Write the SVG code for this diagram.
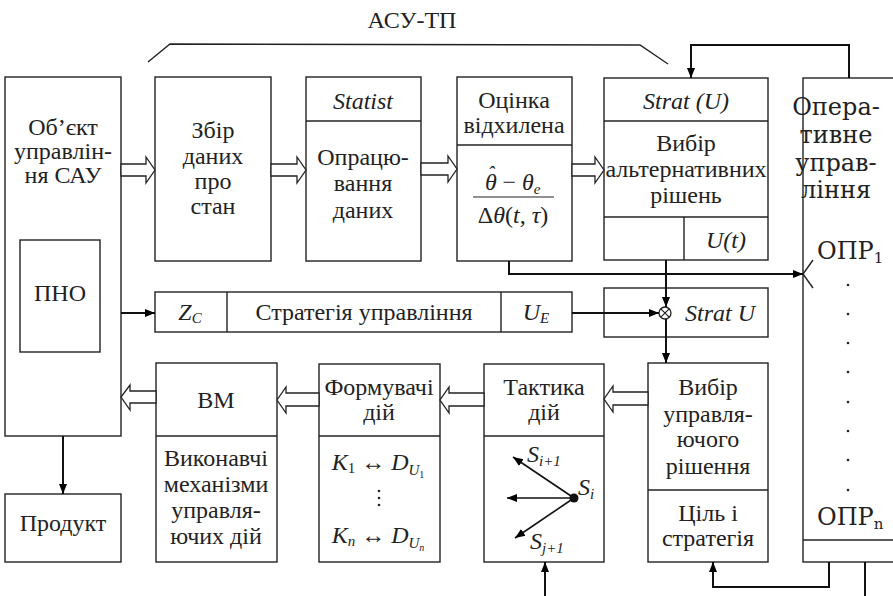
<svg xmlns="http://www.w3.org/2000/svg" width="893" height="596" viewBox="0 0 893 596">
<defs>
<marker id="ah2" viewBox="0 0 10 10" refX="10" refY="5" markerWidth="10" markerHeight="10" markerUnits="userSpaceOnUse" orient="auto">
<path d="M0,1 L10,5 L0,9 Z" fill="#000"/>
</marker>
<style>
.b{fill:#fff;stroke:#222;stroke-width:1.4}
.l{fill:none;stroke:#222;stroke-width:1.4}
.c{fill:none;stroke:#111;stroke-width:2}
.h{fill:#fff;stroke:#222;stroke-width:1.3}
text{font-size:24px;fill:#222}
.m{text-anchor:middle}
.i{font-style:italic}
.n{font-style:normal}
.s{font-size:15px}
</style>
</defs>
<rect width="893" height="596" fill="#fff"/>
<text font-family="Times New Roman" class="m" x="412" y="28" font-size="21">АСУ-ТП</text>
<polyline class="l" points="148,62 170,44 640,45 668,64"/>

<g id="obj" font-family="Times New Roman">
<rect class="b" x="5" y="77" width="116" height="359"/>
<text class="m" x="63" y="135">Об’єкт</text>
<text class="m" x="63" y="159">управлін-</text>
<text class="m" x="63" y="183">ня САУ</text>
</g>
<g id="pno" font-family="Times New Roman">
<rect class="b" x="20" y="240" width="80" height="112"/>
<text class="m" x="60" y="301">ПНО</text>
</g>
<g id="product" font-family="serif">
<rect class="b" x="5" y="494" width="116" height="68"/>
<text class="m" x="63" y="531">Продукт</text>
</g>
<g id="zbir" font-family="Tinos">
<rect class="b" x="155" y="77" width="116" height="184"/>
<text class="m" x="213" y="138">Збір</text>
<text class="m" x="213" y="164">даних</text>
<text class="m" x="213" y="189">про</text>
<text class="m" x="213" y="214">стан</text>
</g>
<g id="statist" font-family="Liberation Serif">
<rect class="b" x="306" y="77" width="115" height="184"/>
<line class="l" x1="306" y1="121" x2="421" y2="121"/>
<text class="m i" x="363" y="109">Statist</text>
<text class="m" x="363" y="165">Опрацю-</text>
<text class="m" x="363" y="191">вання</text>
<text class="m" x="363" y="218">даних</text>
</g>
<g id="ocinka" font-family="Times New Roman">
<rect class="b" x="457" y="77" width="115" height="184"/>
<line class="l" x1="457" y1="145" x2="572" y2="145"/>
<text class="m" x="514" y="108">Оцінка</text>
<text class="m" x="514" y="133">відхилена</text>
<text class="i" x="485" y="190">θ<tspan dx="-9" dy="-9" font-size="20">ˆ</tspan><tspan class="n" dx="2" dy="9"> − </tspan><tspan>θ</tspan><tspan class="s" dy="4">e</tspan></text>
<line x1="473" y1="197" x2="554" y2="197" stroke="#222" stroke-width="1.2"/>
<text class="m" x="513" y="223">Δ<tspan class="i">θ</tspan>(<tspan class="i">t</tspan>, <tspan class="i">τ</tspan>)</text>
</g>
<g id="strat" font-family="Times New Roman">
<rect class="b" x="604" y="78" width="164" height="182"/>
<line class="l" x1="604" y1="121" x2="768" y2="121"/>
<line class="l" x1="604" y1="217" x2="768" y2="217"/>
<line class="l" x1="684" y1="217" x2="684" y2="260"/>
<text class="m i" x="686" y="109">Strat (U)</text>
<text class="m" x="686" y="151">Вибір</text>
<text class="m" x="686" y="177">альтернативних</text>
<text class="m" x="686" y="203">рішень</text>
<text class="m i" x="726" y="248">U(t)</text>
</g>
<g id="operative" font-family="DejaVu Serif">
<rect class="b" x="803" y="78" width="100" height="484"/>
<line class="l" x1="803" y1="540" x2="893" y2="540"/>
<text class="m" x="836" y="115" font-size="20">Опера-</text>
<text class="m" x="836" y="143" font-size="20">тивне</text>
<text class="m" x="836" y="171" font-size="20">управ-</text>
<text class="m" x="836" y="198" font-size="20">ління</text>
<text x="817" y="259" font-size="20">ОПР<tspan class="s" dy="4">1</tspan></text>
<g fill="#222">
<circle cx="848" cy="285" r="1.3"/><circle cx="848" cy="314" r="1.3"/><circle cx="848" cy="343" r="1.3"/><circle cx="848" cy="372" r="1.3"/><circle cx="848" cy="402" r="1.3"/><circle cx="848" cy="431" r="1.3"/><circle cx="848" cy="460" r="1.3"/><circle cx="848" cy="490" r="1.3"/>
</g>
<text x="817" y="525" font-size="20">ОПР<tspan class="s" dy="4">n</tspan></text>
</g>
<g id="strategy" font-family="Times New Roman">
<rect class="b" x="155" y="292" width="417" height="40"/>
<line class="l" x1="227" y1="292" x2="227" y2="332"/>
<line class="l" x1="501" y1="292" x2="501" y2="332"/>
<text class="m i" x="190" y="320">Z<tspan class="s" dy="3">C</tspan></text>
<text class="m" x="364" y="320">Стратегія управління</text>
<text class="m i" x="536" y="320">U<tspan class="s" dy="3">E</tspan></text>
</g>
<g id="stratu" font-family="Times New Roman">
<rect class="b" x="604" y="288" width="164" height="49"/>
<circle cx="665" cy="313" r="6" fill="#fff" stroke="#222" stroke-width="1.3"/>
<path d="M660.8,308.8 L669.2,317.2 M669.2,308.8 L660.8,317.2" stroke="#222" stroke-width="1.2"/>
<text class="m i" x="720" y="321">Strat U</text>
</g>
<g id="vm" font-family="Times New Roman">
<rect class="b" x="156" y="363" width="121" height="199"/>
<line class="l" x1="156" y1="436" x2="277" y2="436"/>
<text class="m" x="216" y="408">ВМ</text>
<text class="m" x="216" y="466">Виконавчі</text>
<text class="m" x="216" y="492">механізми</text>
<text class="m" x="216" y="518">управля-</text>
<text class="m" x="216" y="544">ючих дій</text>
</g>
<g id="formuvachi" font-family="Times New Roman">
<rect class="b" x="319" y="364" width="121" height="198"/>
<line class="l" x1="319" y1="436" x2="440" y2="436"/>
<text class="m" x="379" y="395">Формувачі</text>
<text class="m" x="379" y="420">дій</text>
<text class="m" x="378" y="470"><tspan class="i">K</tspan><tspan class="s" dy="3">1</tspan><tspan dy="-3"> ↔ </tspan><tspan class="i">D</tspan><tspan class="s i" dy="5">U</tspan><tspan font-size="10" dy="3">1</tspan></text>
<g fill="#222"><circle cx="379" cy="491" r="1.3"/><circle cx="379" cy="498" r="1.3"/><circle cx="379" cy="505" r="1.3"/></g>
<text class="m" x="378" y="543"><tspan class="i">K</tspan><tspan class="s i" dy="3">n</tspan><tspan dy="-3"> ↔ </tspan><tspan class="i">D</tspan><tspan class="s i" dy="5">U</tspan><tspan class="i" font-size="10" dy="3">n</tspan></text>
</g>
<g id="taktyka" font-family="Times New Roman">
<rect class="b" x="484" y="364" width="120" height="198"/>
<line class="l" x1="484" y1="436" x2="604" y2="436"/>
<text class="m" x="544" y="395">Тактика</text>
<text class="m" x="544" y="420">дій</text>
<circle cx="574" cy="498" r="4.5" fill="#111"/>
<line x1="574" y1="498" x2="513" y2="457" stroke="#111" stroke-width="1.6" marker-end="url(#ah2)"/>
<line x1="574" y1="498" x2="507" y2="498" stroke="#111" stroke-width="1.6" marker-end="url(#ah2)"/>
<line x1="574" y1="498" x2="515" y2="538" stroke="#111" stroke-width="1.6" marker-end="url(#ah2)"/>
<text class="i" x="527" y="462">S<tspan class="s" dy="4">i+1</tspan></text>
<text class="i" x="578" y="495">S<tspan class="s" dy="4">i</tspan></text>
<text class="i" x="530" y="549">S<tspan class="s" dy="4">j+1</tspan></text>
</g>
<g id="vybir" font-family="Times New Roman">
<rect class="b" x="648" y="363" width="120" height="199"/>
<line class="l" x1="648" y1="490" x2="768" y2="490"/>
<text class="m" x="708" y="395">Вибір</text>
<text class="m" x="708" y="422">управля-</text>
<text class="m" x="708" y="447">ючого</text>
<text class="m" x="708" y="474">рішення</text>
<text class="m" x="708" y="521">Ціль і</text>
<text class="m" x="708" y="546">стратегія</text>
</g>

<g id="connectors">
<path class="h" d="M121,164 H146 V157 L155,170 L146,183 V176 H121 Z"/>
<path class="h" d="M271,164 H297 V157 L306,170 L297,183 V176 H271 Z"/>
<path class="h" d="M421,163 H448 V156 L457,169 L448,182 V175 H421 Z"/>
<path class="h" d="M572,164 H595 V157 L604,170 L595,183 V176 H572 Z"/>
<path class="h" d="M648,392 H613 V386 L604,399 L613,412 V405 H648 Z"/>
<path class="h" d="M484,393 H449 V387 L440,400 L449,413 V406 H484 Z"/>
<path class="h" d="M319,393 H286 V387 L277,400 L286,413 V406 H319 Z"/>
<path class="h" d="M156,391 H130 V385 L121,397 L130,410 V403 H156 Z"/>
<line class="c" x1="121" y1="313" x2="155" y2="313" marker-end="url(#ah2)"/>
<line class="c" x1="63" y1="436" x2="63" y2="494" marker-end="url(#ah2)"/>
<line class="c" x1="572" y1="313" x2="659" y2="313" marker-end="url(#ah2)"/>
<polyline class="c" points="509,261 509,274 803,274" marker-end="url(#ah2)"/>
<path class="l" d="M813,260 L803,274 L813,288"/>
<line class="c" x1="666" y1="260" x2="666" y2="307" marker-end="url(#ah2)"/>
<line class="c" x1="666" y1="319" x2="666" y2="363" marker-end="url(#ah2)"/>
<polyline class="c" points="849,78 849,45 691,45 691,78" marker-end="url(#ah2)"/>
<polyline class="c" points="829,562 829,587 713,587 713,562" marker-end="url(#ah2)"/>
<line class="c" x1="865" y1="562" x2="865" y2="596"/>
<line class="c" x1="545" y1="596" x2="545" y2="562" marker-end="url(#ah2)"/>
</g>
</svg>
